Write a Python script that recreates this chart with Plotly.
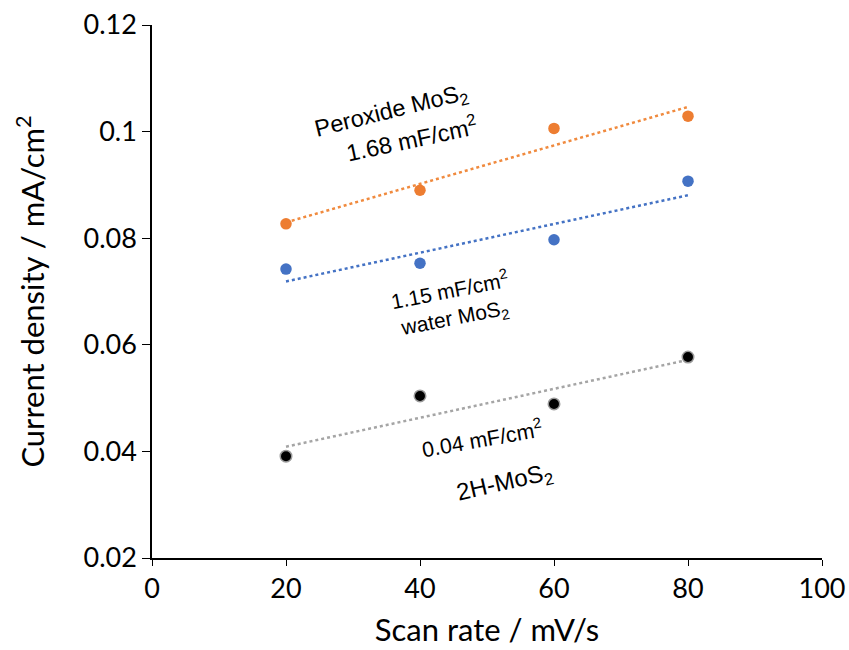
import numpy as np
import plotly.graph_objects as go

scan_rate = [20, 40, 60, 80]
peroxide = [0.0827, 0.0890, 0.1006, 0.1029]
water = [0.0742, 0.0753, 0.0797, 0.0907]
h2 = [0.0391, 0.0504, 0.0489, 0.0577]

x_ticks = [0, 20, 40, 60, 80, 100]
y_ticks = [0.02, 0.04, 0.06, 0.08, 0.1, 0.12]
y_tick_text = ["0.02", "0.04", "0.06", "0.08", "0.1", "0.12"]

series = [
    (peroxide, "#ED7D31", "#ED7D31", "#F08A3E"),
    (water, "#4472C4", "#4472C4", "#4472C4"),
    (h2, "#000000", "#9A9A9A", "#A5A5A5"),
]

fig = go.Figure()
xs = np.array(scan_rate, dtype=float)
for ys, col, outline, tcol in series:
    k, b = np.polyfit(xs, np.array(ys), 1)
    xfit = [xs.min(), xs.max()]
    fig.add_trace(go.Scatter(x=xfit, y=[k * v + b for v in xfit], mode="lines",
                             line=dict(color=tcol, width=2.5, dash="dot"),
                             showlegend=False, hoverinfo="skip"))
    fig.add_trace(go.Scatter(x=scan_rate, y=ys, mode="markers",
                             marker=dict(color=col, size=11.5,
                                         line=dict(color=outline, width=1.5 if col == "#000000" else 0)),
                             showlegend=False))

afont = dict(family="Liberation Sans, Arial, sans-serif", color="black")
anns = [
    ("Peroxide MoS<sub>2</sub>", 35.8, 0.1038, -14, 23.5),
    ("1.68 mF/cm<sup>2</sup>", 38.8, 0.0988, -12, 23.5),
    ("1.15 mF/cm<sup>2</sup><br>water MoS<sub>2</sub>", 44.8, 0.0675, -11, 21),
    ("0.04 mF/cm<sup>2</sup>", 49.2, 0.0426, -10, 21.5),
    ("2H-MoS<sub>2</sub>", 52.6, 0.0340, -13, 24),
]
for text, ax, ay, ang, sz in anns:
    fig.add_annotation(x=ax, y=ay, text=text, showarrow=False, textangle=ang,
                       font=dict(size=sz, **afont), xref="x", yref="y")

axfont = "Lato, Carlito, Calibri, sans-serif"
fig.update_layout(
    width=849, height=650,
    margin=dict(l=152, r=27, t=25, b=92),
    plot_bgcolor="white", paper_bgcolor="white",
    font=dict(family=axfont, color="black"),
    xaxis=dict(range=[0, 100], tickvals=x_ticks, showgrid=False, zeroline=False,
               showline=True, linecolor="black", linewidth=1.5, automargin=False,
               ticks="outside", ticklen=6, tickcolor="black",
               tickfont=dict(size=27, family=axfont),
               title=dict(text="Scan rate / mV/s", font=dict(size=31, family=axfont), standoff=16)),
    yaxis=dict(range=[0.02, 0.12], tickvals=y_ticks, ticktext=y_tick_text, showgrid=False,
               zeroline=False, showline=True, linecolor="black", linewidth=1.5, automargin=False,
               ticks="outside", ticklen=8, tickcolor="black",
               tickfont=dict(size=27, family=axfont),
               title=dict(text="Current density / mA/cm<sup>2</sup>", font=dict(size=31, family=axfont), standoff=30)),
)

fig.write_html("out.html")
